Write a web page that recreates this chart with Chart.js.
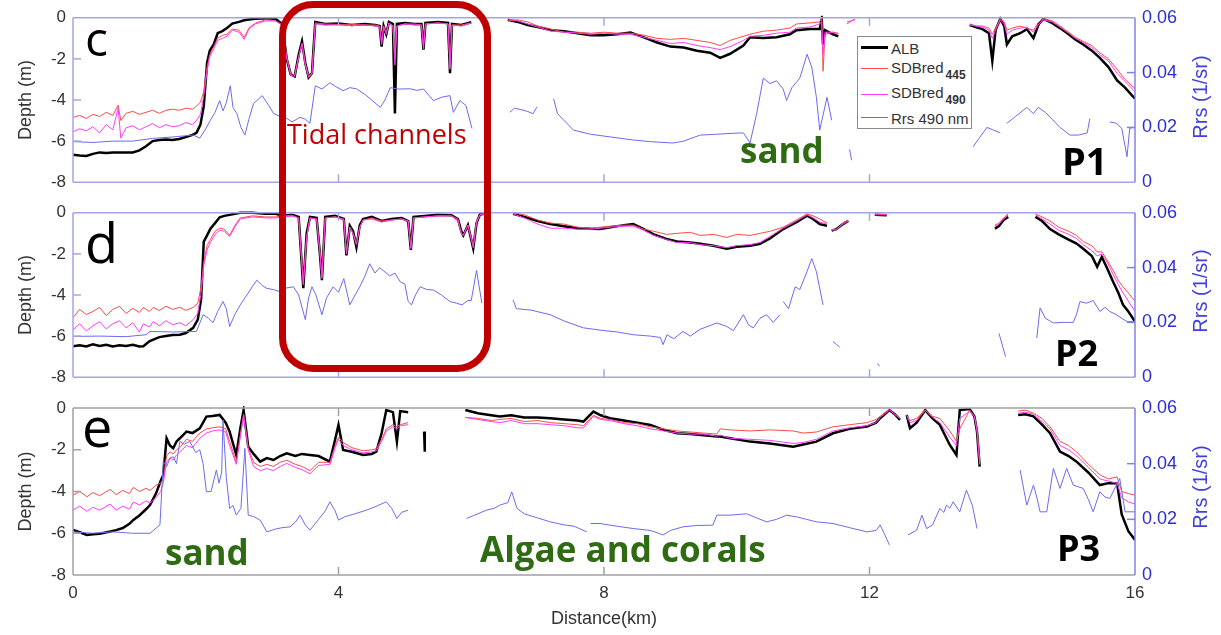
<!DOCTYPE html>
<html><head><meta charset="utf-8">
<script src="https://cdn.jsdelivr.net/npm/chart.js@4/dist/chart.umd.min.js"></script>
<style>
html,body{margin:0;padding:0;background:#fff;}
#wrap{position:relative;width:1221px;height:635px;overflow:hidden;background:#fff;}
canvas{position:absolute;left:0;}
.t{position:absolute;white-space:nowrap;line-height:1;}
.os{font-family:'Open Sans',sans-serif;}
.ls{font-family:'Liberation Sans',Arial,sans-serif;}
.lg{position:absolute;height:0;}
</style></head><body><div id="wrap">
<canvas id="c1" width="1221" height="200" style="top:0px"></canvas>
<canvas id="c2" width="1221" height="200" style="top:195px"></canvas>
<canvas id="c3" width="1221" height="245" style="top:390px"></canvas>

<div class="t ls" style="left:1200px;top:97px;font-size:20px;color:#4040e0;transform:translate(-50%,-50%) rotate(-90deg);">Rrs (1/sr)</div>
<div class="t ls" style="left:1200px;top:291px;font-size:20px;color:#4040e0;transform:translate(-50%,-50%) rotate(-90deg);">Rrs (1/sr)</div>
<div class="t ls" style="left:1200px;top:487px;font-size:20px;color:#4040e0;transform:translate(-50%,-50%) rotate(-90deg);">Rrs (1/sr)</div>

<div class="t os" style="left:85px;top:14px;font-size:48px;color:#000;">c</div>
<div class="t os" style="left:85px;top:215px;font-size:54px;color:#000;">d</div>
<div class="t os" style="left:82px;top:399px;font-size:54px;color:#000;">e</div>
<div class="t os" style="left:1062px;top:141px;font-size:38px;font-weight:bold;color:#000;">P1</div>
<div class="t os" style="left:1055px;top:335px;font-size:36px;font-weight:bold;color:#000;">P2</div>
<div class="t os" style="left:1057px;top:530px;font-size:36px;font-weight:bold;color:#000;">P3</div>
<div class="t os" style="left:740px;top:132px;font-size:35px;font-weight:bold;color:#2f6b13;">sand</div>
<div class="t os" style="left:165px;top:534px;font-size:35px;font-weight:bold;color:#2f6b13;">sand</div>
<div class="t os" style="left:480px;top:531px;font-size:35px;font-weight:bold;color:#2f6b13;">Algae and corals</div>

<div style="position:absolute;left:279px;top:1px;width:212px;height:371px;box-sizing:border-box;border:7px solid #c00000;border-radius:34px;"></div>
<div class="t os" style="left:287px;top:120px;font-size:27px;color:#c00000;">Tidal channels</div>

<div style="position:absolute;left:857px;top:36px;width:115px;height:93px;box-sizing:border-box;border:1px solid #8a8a8a;background:#fff;"></div>
<div class="lg" style="left:861px;top:46px;width:27px;border-top:3px solid #000;"></div>
<div class="lg" style="left:861px;top:68px;width:27px;border-top:1px solid #ff4a4a;"></div>
<div class="lg" style="left:861px;top:94px;width:27px;border-top:1px solid #ff3cff;"></div>
<div class="lg" style="left:861px;top:117px;width:27px;border-top:1px solid #6b6bf0;"></div>
<div class="t ls" style="left:891px;top:41px;font-size:15px;color:#333;">ALB</div>
<div class="t ls" style="left:891px;top:60px;font-size:15px;color:#333;">SDBred<span style="position:relative;top:6px;font-size:12px;font-weight:bold;margin-left:2px;">445</span></div>
<div class="t ls" style="left:891px;top:85px;font-size:15px;color:#333;">SDBred<span style="position:relative;top:6px;font-size:12px;font-weight:bold;margin-left:2px;">490</span></div>
<div class="t ls" style="left:891px;top:111px;font-size:15px;color:#333;">Rrs 490 nm</div>
</div>
<script>
// ---------- tick values ----------
const xTicks = [0, 4, 8, 12, 16];
const depthTicks = [0, -2, -4, -6, -8];
const rrsTicks = [0, 0.02, 0.04, 0.06];

// ---------- Panel P1 (c) ----------
const p1Km = [0,0.1,0.2,0.3,0.4,0.5,0.6,0.68,0.72,0.8,
 0.9,1.0,1.1,1.2,1.3,1.4,1.5,1.6,1.7,1.8,
 1.86,1.92,1.97,2.02,2.06,2.12,2.18,2.25,2.32,2.4,
 2.5,2.58,2.65,2.75,2.9,3.05,3.15,3.22,3.28,3.34,
 3.4,3.45,3.5,3.55,3.6,3.65,3.8,4.0,4.2,4.4,
 4.55,4.62,4.65,4.68,4.72,4.76,4.82,4.85,4.88,5.0,
 5.15,5.25,5.28,5.31,5.5,5.65,5.68,5.71,5.85,6.0,
 6.3,6.55,6.7,6.85,7.0,7.2,7.4,7.6,7.8,8.0,
 8.2,8.4,8.6,8.8,9.0,9.2,9.4,9.6,9.75,9.9,
 10.1,10.2,10.4,10.6,10.8,10.9,11.1,11.25,11.28,11.3,
 11.33,11.45,11.53,11.6,11.66,11.78,12.5,13.51,13.6,13.7,
 13.8,13.85,13.9,13.97,14.03,14.07,14.15,14.27,14.37,14.47,
 14.55,14.62,14.75,14.87,15.0,15.1,15.22,15.35,15.47,15.6,
 15.73,15.85,16.0];
const p1Alb = [-6.66,-6.70,-6.72,-6.62,-6.55,-6.58,-6.55,-6.55,-6.55,-6.55,
 -6.55,-6.45,-6.25,-6.00,-5.95,-5.92,-5.95,-5.90,-5.80,-5.70,
 -5.60,-5.20,-4.30,-2.20,-1.60,-1.30,-0.75,-0.65,-0.50,-0.28,
 -0.20,-0.12,-0.08,-0.05,-0.02,-0.05,-0.30,-2.00,-2.75,-2.85,
 -1.80,-1.15,-2.20,-2.90,-2.70,-0.20,-0.30,-0.28,-0.35,-0.30,
 -0.35,-0.40,-1.40,-0.40,-0.80,-0.20,-0.30,-4.65,-0.30,-0.25,
 -0.30,-0.30,-1.55,-0.25,-0.20,-0.25,-2.70,-0.30,-0.35,-0.22,
 null,-0.10,-0.20,-0.35,-0.45,-0.60,-0.65,-0.75,-0.85,-0.85,
 -0.80,-0.72,-0.95,-1.20,-1.40,-1.45,-1.60,-1.70,-1.95,-1.75,
 -1.35,-0.95,-0.98,-0.95,-0.80,-0.60,-0.55,-0.55,-0.05,-1.30,
 -0.60,-0.80,-0.90,null,null,null,null,-0.35,-0.45,-0.55,
 -0.75,-2.10,-0.60,-0.05,-0.40,-1.30,-0.90,-0.75,-0.55,-0.99,
 -0.30,-0.05,-0.25,-0.50,-0.80,-1.05,-1.30,-1.60,-1.95,-2.40,
 -3.05,-3.40,-3.94];
const p1Sdb445 = [-4.85,-4.75,-4.90,-4.70,-4.80,-4.60,-4.75,-4.25,-5.00,-4.65,
 -4.55,-4.70,-4.60,-4.50,-4.65,-4.50,-4.45,-4.50,-4.40,-4.45,
 -4.30,-4.10,-3.60,-2.40,-1.80,-1.40,-1.00,-0.85,-0.80,-0.55,
 -0.60,-0.95,-0.50,-0.25,-0.10,-0.15,-0.35,-1.90,-2.70,-2.80,
 -1.90,-1.25,-2.20,-2.85,-2.70,-0.25,-0.30,-0.32,-0.32,-0.35,
 -0.35,-0.40,-1.20,-0.40,-0.70,-0.25,-0.40,-2.00,-0.40,-0.30,
 -0.30,-0.35,-1.40,-0.30,-0.25,-0.30,-2.40,-0.35,-0.35,-0.25,
 null,-0.15,-0.10,-0.20,-0.40,-0.55,-0.70,-0.70,-0.75,-0.70,
 -0.75,-0.75,-0.85,-1.00,-1.05,-1.00,-1.10,-1.20,-1.35,-1.10,
 -0.90,-0.80,-0.65,-0.60,-0.50,-0.30,-0.25,-0.20,0.00,-2.60,
 -0.80,-0.70,-0.75,null,-0.30,-0.05,null,-0.35,-0.40,-0.40,
 -0.50,-0.80,-0.50,-0.05,-0.20,-0.60,-0.50,-0.40,-0.50,-0.60,
 -0.20,-0.05,-0.15,-0.40,-0.70,-0.95,-1.15,-1.35,-1.70,-2.00,
 -2.50,-3.00,-3.45];
const p1Sdb490 = [-5.55,-5.40,-5.50,-5.30,-5.60,-5.20,-5.45,-4.40,-5.85,-5.35,
 -5.25,-5.45,-5.30,-5.15,-5.35,-5.20,-5.30,-5.25,-5.10,-5.20,
 -5.00,-4.70,-3.80,-2.60,-1.90,-1.50,-1.10,-1.00,-0.90,-0.60,
 -0.70,-1.05,-0.55,-0.30,-0.15,-0.15,-0.35,-2.00,-2.80,-2.85,
 -1.90,-1.25,-2.30,-2.90,-2.75,-0.30,-0.35,-0.35,-0.38,-0.35,
 -0.40,-0.45,-1.30,-0.45,-0.80,-0.25,-0.40,-2.30,-0.40,-0.30,
 -0.35,-0.35,-1.50,-0.30,-0.25,-0.30,-2.50,-0.35,-0.40,-0.25,
 null,-0.05,-0.15,-0.30,-0.45,-0.65,-0.70,-0.75,-0.80,-0.75,
 -0.80,-0.80,-0.95,-1.10,-1.25,-1.20,-1.35,-1.45,-1.55,-1.40,
 -1.10,-0.90,-0.85,-0.75,-0.70,-0.50,-0.45,-0.30,-0.20,-1.80,
 -0.70,-0.70,-0.80,null,-0.20,-0.10,null,-0.30,-0.40,-0.45,
 -0.60,-1.00,-0.60,-0.10,-0.30,-0.80,-0.60,-0.50,-0.45,-0.70,
 -0.30,-0.10,-0.20,-0.45,-0.75,-1.00,-1.20,-1.45,-1.80,-2.10,
 -2.70,-3.10,-3.60];
const p1RrsKm = [0,0.3,0.6,0.9,1.2,1.5,1.81,1.91,2.0,2.07,
 2.14,2.21,2.26,2.31,2.37,2.41,2.47,2.53,2.59,2.65,
 2.72,2.85,2.95,3.02,3.12,3.22,3.3,3.42,3.5,3.57,
 3.65,3.75,3.87,3.95,4.07,4.17,4.27,4.4,4.5,4.63,
 4.7,4.78,4.9,5.08,5.18,5.28,5.43,5.55,5.68,5.73,
 5.83,5.92,6.01,6.3,6.58,6.65,6.75,6.85,6.93,6.99,
 7.1,7.24,7.3,7.54,7.8,8.1,8.44,8.7,9.04,9.2,
 9.45,9.7,9.9,10.1,10.2,10.3,10.4,10.5,10.6,10.7,
 10.75,10.83,10.95,11.06,11.13,11.2,11.25,11.36,11.43,11.5,
 11.7,11.73,11.8,13.56,13.65,13.77,13.87,13.97,14.02,14.07,
 14.2,14.37,14.47,14.54,14.65,14.75,14.87,15.02,15.15,15.28,
 15.32,15.4,15.62,15.72,15.8,15.88,15.92,16.0];
const p1Rrs = [0.0148,0.0145,0.0150,0.0150,0.0160,0.0165,0.0172,0.0161,0.0195,0.0226,
 0.0255,0.0298,0.0260,0.0290,0.0352,0.0273,0.0250,0.0200,0.0172,0.0230,
 0.0287,0.0316,0.0280,0.0251,0.0240,0.0233,0.0220,0.0237,0.0230,0.0215,
 0.0352,0.0340,0.0363,0.0350,0.0334,0.0345,0.0341,0.0320,0.0300,0.0273,
 0.0300,0.0345,0.0340,0.0341,0.0335,0.0340,0.0298,0.0310,0.0316,0.0255,
 0.0298,0.0280,0.0197,null,0.0255,0.0270,0.0265,0.0258,0.0250,0.0275,
 null,0.0305,0.0250,0.0190,0.0175,0.0165,0.0154,0.0148,0.0143,0.0150,
 0.0172,0.0175,0.0178,0.0180,0.0143,0.0250,0.0380,0.0360,0.0370,0.0340,
 0.0298,0.0345,0.0380,0.0467,0.0420,0.0310,0.0190,0.0310,0.0226,null,
 0.0120,0.0080,null,0.0129,0.0160,0.0200,0.0190,0.0180,null,0.0215,
 0.0240,0.0273,0.0250,0.0273,0.0255,0.0230,0.0200,0.0172,0.0172,0.0180,
 0.0233,null,0.0220,0.0215,0.0197,0.0093,0.0197,0.0200];

// ---------- Panel P2 (d) ----------
const p2Km = [0,0.1,0.2,0.3,0.4,0.5,0.6,0.7,0.8,0.9,
 1.0,1.06,1.15,1.21,1.3,1.4,1.5,1.61,1.7,1.81,
 1.88,1.93,1.97,2.02,2.07,2.14,2.21,2.28,2.36,2.44,
 2.52,2.7,2.9,3.05,3.17,3.3,3.4,3.47,3.52,3.57,
 3.67,3.72,3.75,3.8,3.95,4.08,4.12,4.17,4.22,4.27,
 4.32,4.37,4.5,4.65,4.8,4.95,5.05,5.09,5.13,5.3,
 5.5,5.7,5.8,5.85,5.88,5.95,6.03,6.08,6.13,6.2,
 6.4,6.63,6.8,7.0,7.19,7.4,7.6,7.8,7.94,8.1,
 8.3,8.44,8.6,8.75,8.94,9.1,9.3,9.45,9.65,9.85,
 10.0,10.2,10.35,10.5,10.7,10.9,11.06,11.15,11.25,11.36,
 11.38,11.43,11.5,11.6,11.68,11.8,12.08,12.26,12.4,13.89,
 13.95,14.02,14.09,14.2,14.5,14.6,14.72,14.85,15.0,15.12,
 15.22,15.35,15.43,15.5,15.58,15.67,15.75,15.82,15.9,16.0];
const p2Alb = [-6.49,-6.45,-6.50,-6.40,-6.48,-6.42,-6.50,-6.45,-6.48,-6.42,
 -6.50,-6.49,-6.25,-6.17,-6.05,-6.00,-5.95,-5.93,-5.85,-5.60,
 -5.20,-4.20,-1.40,-1.10,-0.77,-0.50,-0.22,-0.15,-0.10,-0.05,
 0.00,0.00,-0.05,-0.05,-0.14,-0.10,-0.20,-3.67,-1.00,-0.20,
 -0.25,-2.00,-3.28,-0.20,-0.15,-0.30,-2.07,-0.63,-0.90,-1.67,
 -0.60,-0.30,-0.20,-0.40,-0.30,-0.25,-0.40,-1.80,-0.20,-0.15,
 -0.10,-0.12,-0.30,-0.90,-1.10,-0.60,-1.73,-0.50,-0.08,-0.05,
 null,-0.05,-0.20,-0.40,-0.55,-0.65,-0.75,-0.78,-0.79,-0.70,
 -0.60,-0.55,-0.80,-1.05,-1.27,-1.40,-1.45,-1.51,-1.60,-1.75,
 -1.65,-1.60,-1.51,-1.25,-0.79,-0.45,-0.14,-0.30,-0.55,-0.63,
 null,-0.87,-0.80,-0.55,-0.39,null,-0.10,-0.12,null,-0.77,
 -0.65,-0.35,-0.20,null,-0.20,-0.40,-0.79,-1.05,-1.30,-1.50,
 -1.75,-2.10,-2.63,-2.15,-2.70,-3.36,-3.90,-4.48,-4.80,-5.29];
const p2Sdb445 = [-5.10,-4.70,-4.95,-4.80,-4.60,-5.00,-4.70,-4.55,-4.90,-4.65,
 -4.85,-4.60,-4.80,-4.60,-4.75,-4.55,-4.70,-4.60,-4.75,-4.60,
 -4.40,-3.60,-2.40,-1.60,-1.30,-0.90,-0.75,-0.80,-1.10,-0.60,
 -0.25,-0.15,-0.20,-0.20,-0.15,-0.12,-0.25,-3.40,-1.20,-0.25,
 -0.30,-1.90,-3.10,-0.25,-0.20,-0.30,-1.90,-0.70,-1.00,-1.50,
 -0.70,-0.35,-0.25,-0.40,-0.35,-0.30,-0.40,-1.70,-0.25,-0.20,
 -0.15,-0.15,-0.40,-1.00,-1.10,-0.60,-1.60,-0.40,-0.10,-0.05,
 null,0.00,-0.10,-0.35,-0.50,-0.55,-0.70,-0.75,-0.70,-0.65,
 -0.60,-0.60,-0.80,-0.90,-1.05,-1.00,-0.95,-1.10,-1.05,-1.20,
 -1.05,-1.10,-1.00,-0.90,-0.70,-0.35,-0.05,-0.15,-0.30,-0.50,
 null,-0.80,-0.85,-0.50,-0.35,null,-0.05,-0.10,null,-0.60,
 -0.50,-0.25,-0.05,null,-0.05,-0.20,-0.40,-0.70,-0.90,-1.10,
 -1.40,-1.60,-1.90,-1.90,-2.30,-2.80,-3.30,-3.60,-3.90,-4.30];
const p2Sdb490 = [-5.70,-5.40,-5.75,-5.50,-5.30,-5.65,-5.40,-5.25,-5.60,-5.35,
 -5.80,-5.40,-5.55,-5.30,-5.50,-5.25,-5.45,-5.35,-5.50,-5.20,
 -4.90,-3.90,-2.60,-1.80,-1.45,-1.05,-0.85,-0.90,-1.15,-0.70,
 -0.30,-0.20,-0.25,-0.25,-0.20,-0.15,-0.25,-3.50,-1.20,-0.25,
 -0.30,-1.95,-3.20,-0.25,-0.20,-0.35,-2.00,-0.70,-1.00,-1.55,
 -0.70,-0.35,-0.30,-0.45,-0.35,-0.30,-0.40,-1.75,-0.25,-0.20,
 -0.15,-0.15,-0.30,-1.00,-1.10,-0.60,-1.70,-0.50,-0.10,-0.05,
 null,-0.05,-0.25,-0.55,-0.75,-0.75,-0.80,-0.80,-0.75,-0.70,
 -0.65,-0.65,-0.85,-1.10,-1.30,-1.45,-1.45,-1.55,-1.60,-1.70,
 -1.60,-1.55,-1.45,-1.15,-0.75,-0.40,-0.10,-0.25,-0.45,-0.55,
 null,-0.85,-0.80,-0.55,-0.40,null,-0.10,-0.10,null,-0.65,
 -0.55,-0.30,-0.10,null,-0.10,-0.30,-0.55,-0.85,-1.05,-1.25,
 -1.55,-1.85,-2.10,-2.00,-2.40,-3.00,-3.50,-3.90,-4.30,-4.80];
const p2RrsKm = [0,0.4,0.8,1.1,1.16,1.5,1.86,1.96,2.04,2.11,
 2.18,2.26,2.31,2.36,2.44,2.52,2.62,2.7,2.77,2.85,
 2.92,3.02,3.12,3.2,3.32,3.4,3.5,3.55,3.6,3.66,
 3.75,3.82,3.92,4.0,4.08,4.17,4.25,4.32,4.4,4.47,
 4.55,4.62,4.67,4.77,4.85,4.93,5.0,5.05,5.1,5.16,
 5.23,5.33,5.43,5.55,5.68,5.78,5.86,5.95,6.0,6.08,
 6.16,6.3,6.63,6.68,6.9,7.19,7.4,7.69,8.0,8.2,
 8.44,8.7,8.85,8.89,8.95,9.05,9.19,9.3,9.45,9.7,
 9.85,9.95,10.1,10.18,10.25,10.35,10.45,10.55,10.65,10.68,
 10.7,10.78,10.88,10.95,11.05,11.13,11.2,11.3,11.35,11.45,
 11.5,11.55,11.6,12.12,12.15,12.2,13.95,13.97,14.05,14.1,
 14.52,14.57,14.65,14.77,14.9,15.07,15.12,15.17,15.27,15.37,
 15.47,15.55,15.62,15.72,15.8,15.88,16.0];
const p2Rrs = [0.0149,0.0150,0.0148,0.0155,0.0167,0.0165,0.0167,0.0228,0.0215,0.0199,
 0.0240,0.0276,0.0250,0.0185,0.0230,0.0264,0.0300,0.0330,0.0354,0.0335,
 0.0324,0.0320,0.0312,0.0325,0.0330,0.0300,0.0210,0.0290,0.0330,0.0300,
 0.0228,0.0290,0.0330,0.0310,0.0360,0.0264,0.0300,0.0330,0.0370,0.0414,
 0.0380,0.0400,0.0390,0.0370,0.0380,0.0348,0.0340,0.0276,0.0264,0.0300,
 0.0330,0.0320,0.0318,0.0300,0.0276,0.0270,0.0264,0.0280,0.0280,0.0390,
 0.0270,null,0.0282,0.0250,0.0245,0.0228,0.0205,0.0180,0.0170,0.0165,
 0.0155,0.0150,0.0145,0.0119,0.0155,0.0140,0.0167,0.0150,0.0175,0.0198,
 0.0185,0.0170,0.0228,0.0190,0.0180,0.0215,0.0228,0.0200,0.0228,null,
 0.0276,0.0250,0.0330,0.0320,0.0380,0.0433,0.0385,0.0264,null,0.0130,
 0.0120,0.0110,null,0.0050,0.0040,null,0.0160,0.0144,0.0075,null,
 0.0143,0.0253,0.0215,0.0198,0.0200,0.0200,0.0230,0.0276,0.0270,0.0280,
 0.0240,0.0255,0.0240,0.0228,0.0215,0.0203,0.0203];

// ---------- Panel P3 (e) ----------
const p3Km = [0,0.1,0.21,0.3,0.4,0.56,0.65,0.75,0.85,0.91,
 1.0,1.1,1.16,1.25,1.32,1.36,1.41,1.46,1.51,1.56,
 1.61,1.71,1.8,1.91,2.01,2.1,2.21,2.3,2.36,2.46,
 2.52,2.57,2.64,2.72,2.82,2.92,3.02,3.12,3.22,3.35,
 3.45,3.57,3.7,3.87,3.95,4.0,4.07,4.2,4.37,4.5,
 4.57,4.65,4.72,4.82,4.88,4.93,5.05,5.1,5.29,5.3,
 5.35,5.91,6.1,6.3,6.43,6.6,6.8,7.0,7.19,7.4,
 7.6,7.69,7.84,7.95,8.09,8.3,8.5,8.7,8.9,9.1,
 9.3,9.5,9.7,9.75,9.9,10.2,10.5,10.85,11.0,11.2,
 11.45,11.7,11.96,12.1,12.16,12.3,12.38,12.46,12.5,12.56,
 12.61,12.71,12.84,12.95,13.06,13.21,13.31,13.36,13.51,13.58,
 13.62,13.66,13.7,14.24,14.35,14.47,14.6,14.72,14.87,15.0,
 15.12,15.3,15.47,15.6,15.73,15.8,15.9,16.0];
const p3Alb = [-5.84,-5.95,-6.08,-6.05,-6.02,-5.92,-5.85,-5.75,-5.55,-5.36,
 -5.15,-4.85,-4.65,-4.10,-3.50,-3.21,-1.45,-1.80,-1.93,-1.60,
 -1.45,-1.13,-1.20,-0.97,-0.41,-0.38,-0.33,-0.70,-1.13,-2.25,
 -1.00,-0.10,-1.85,-2.20,-2.57,-2.40,-2.49,-2.30,-2.17,-2.30,
 -2.20,-2.25,-2.30,-2.57,-1.50,-0.81,-2.01,-2.10,-2.25,-2.20,
 -2.09,-1.20,-0.10,-0.20,-1.61,-0.15,-0.20,null,-1.13,-2.09,
 null,-0.10,-0.25,-0.35,-0.41,-0.35,-0.45,-0.45,-0.49,-0.55,
 -0.60,-0.65,-0.17,-0.35,-0.49,-0.60,-0.70,-0.81,-1.05,-1.21,
 -1.25,-1.30,-1.37,-1.37,-1.45,-1.61,-1.70,-1.85,-1.75,-1.61,
 -1.21,-1.00,-0.89,-0.70,-0.49,-0.10,-0.30,-0.57,null,-0.33,
 -0.97,-0.70,-0.10,-0.50,-0.81,-1.77,-2.25,-0.10,-0.05,-0.40,
 -1.13,-2.81,null,-0.33,-0.30,-0.40,-0.80,-1.21,-2.09,-2.30,
 -2.57,-3.10,-3.69,-3.60,-3.61,-5.10,-5.90,-6.32];
const p3Sdb445 = [-4.17,-4.00,-4.25,-4.05,-4.20,-3.90,-4.15,-3.95,-4.10,-3.80,
 -4.00,-3.85,-3.95,-3.70,-3.60,-3.40,-2.30,-2.10,-2.20,-2.00,
 -1.90,-1.50,-1.60,-1.20,-1.00,-0.95,-0.90,-1.00,-1.60,-2.60,
 -1.30,-0.30,-1.90,-2.60,-2.80,-2.70,-2.80,-2.60,-2.50,-2.70,
 -2.80,-3.00,-2.60,-2.60,-1.80,-1.40,-1.65,-1.90,-2.05,-2.00,
 -1.95,-1.50,-1.00,-0.80,-0.90,-0.80,-0.70,null,null,null,
 null,-0.45,-0.50,-0.60,-0.55,-0.50,-0.65,-0.60,-0.70,-0.75,
 -0.80,-0.85,-0.35,-0.50,-0.55,-0.70,-0.75,-0.90,-1.00,-1.10,
 -1.15,-1.20,-1.25,-1.00,-1.05,-1.10,-1.05,-1.10,-1.20,-1.15,
 -0.90,-0.80,-0.70,-0.55,-0.40,-0.05,-0.30,-0.50,null,-0.35,
 -0.60,-0.50,-0.10,-0.40,-0.50,-1.10,-1.60,-1.00,-0.10,-0.40,
 -1.00,-2.60,null,-0.15,-0.10,-0.25,-0.50,-0.90,-1.60,-1.80,
 -2.10,-2.70,-3.20,-3.40,-3.30,-4.00,-4.10,-4.17];
const p3Sdb490 = [-4.89,-4.70,-4.95,-4.75,-4.90,-4.60,-4.90,-4.70,-4.85,-4.50,
 -4.65,-4.45,-4.55,-4.30,-4.00,-3.60,-2.60,-2.40,-2.50,-2.25,
 -2.10,-1.80,-1.90,-1.45,-1.20,-1.10,-1.05,-1.15,-1.80,-2.70,
 -1.40,-0.35,-2.00,-2.80,-3.00,-2.90,-3.00,-2.80,-2.65,-2.85,
 -2.95,-3.15,-2.75,-2.70,-1.90,-1.50,-1.80,-2.00,-2.15,-2.10,
 -2.05,-1.60,-1.10,-0.90,-1.00,-0.85,-0.80,null,null,null,
 null,-0.45,-0.55,-0.65,-0.70,-0.60,-0.75,-0.75,-0.80,-0.85,
 -0.95,-0.95,-0.40,-0.55,-0.60,-0.75,-0.85,-1.00,-1.10,-1.20,
 -1.25,-1.25,-1.35,-1.30,-1.45,-1.50,-1.55,-1.70,-1.65,-1.50,
 -1.10,-0.95,-0.85,-0.70,-0.45,-0.10,-0.30,-0.50,null,-0.35,
 -0.70,-0.60,-0.10,-0.45,-0.70,-1.40,-1.80,-0.50,-0.15,-0.40,
 -1.10,-2.70,null,-0.25,-0.20,-0.30,-0.65,-1.00,-1.80,-2.00,
 -2.30,-2.85,-3.40,-3.50,-3.60,-4.30,-4.50,-4.60];
const p3RrsKm = [0,0.3,0.6,0.9,1.16,1.31,1.36,1.41,1.46,1.51,
 1.56,1.61,1.68,1.76,1.85,1.91,1.96,2.01,2.08,2.16,
 2.2,2.24,2.26,2.31,2.36,2.41,2.46,2.53,2.59,2.64,
 2.72,2.82,2.92,3.05,3.15,3.27,3.35,3.42,3.5,3.57,
 3.7,3.8,3.87,3.95,4.0,4.1,4.25,4.42,4.55,4.72,
 4.8,4.88,4.95,5.05,5.1,5.93,6.05,6.15,6.23,6.35,
 6.43,6.55,6.61,6.69,6.8,7.0,7.19,7.4,7.55,7.74,
 7.77,7.8,7.94,8.2,8.44,8.7,8.89,9.0,9.19,9.4,
 9.64,9.7,9.9,10.15,10.3,10.45,10.6,10.75,10.9,11.05,
 11.2,11.45,11.7,11.96,12.1,12.16,12.22,12.3,12.35,12.58,
 12.71,12.79,12.86,12.95,13.06,13.12,13.16,13.21,13.26,13.36,
 13.46,13.55,13.62,13.7,14.27,14.33,14.37,14.47,14.52,14.57,
 14.67,14.77,14.87,14.97,15.07,15.22,15.3,15.37,15.47,15.55,
 15.62,15.77,15.85,16.0];
const p3Rrs = [0.0155,0.0150,0.0155,0.0150,0.0150,0.0180,0.0407,0.0389,0.0420,0.0425,
 0.0400,0.0480,0.0470,0.0480,0.0440,0.0450,0.0400,0.0299,0.0300,0.0377,
 0.0330,0.0370,0.0556,0.0350,0.0239,0.0250,0.0215,0.0240,0.0455,0.0215,
 0.0210,0.0197,0.0155,0.0165,0.0170,0.0173,0.0190,0.0215,0.0180,0.0161,
 0.0200,0.0230,0.0263,0.0230,0.0197,0.0210,0.0220,0.0233,0.0245,0.0263,
 0.0240,0.0203,0.0225,0.0233,null,0.0203,0.0215,0.0225,0.0233,0.0240,
 0.0251,0.0260,0.0299,0.0239,0.0220,0.0205,0.0191,0.0180,0.0175,0.0155,
 null,0.0185,0.0185,0.0175,0.0167,0.0160,0.0144,0.0160,0.0173,0.0178,
 0.0179,0.0215,0.0215,0.0220,0.0205,0.0191,0.0200,0.0215,0.0209,0.0200,
 0.0191,0.0185,0.0170,0.0155,0.0160,0.0180,0.0150,0.0108,null,0.0144,
 0.0161,0.0215,0.0167,0.0180,0.0239,0.0225,0.0251,0.0240,0.0263,0.0227,
 0.0305,0.0250,0.0167,null,0.0377,0.0300,0.0251,0.0323,0.0280,0.0227,
 0.0227,0.0383,0.0311,0.0383,0.0323,0.0311,0.0270,0.0227,0.0299,0.0280,
 0.0275,0.0347,0.0227,0.0227];

// ---------- drawing ----------
Chart.defaults.font.family = "'Liberation Sans', Arial, sans-serif";

const pts = (xs, ys) => xs.map((x, i) => ({ x: x, y: ys[i] }));

const framePlugin = {
  id: 'frame',
  afterDatasetsDraw(chart, args, o) {
    const { ctx, chartArea: a, scales } = chart;
    const seg = (x1, y1, x2, y2, c) => { ctx.strokeStyle = c; ctx.beginPath(); ctx.moveTo(x1, y1); ctx.lineTo(x2, y2); ctx.stroke(); };
    ctx.save();
    ctx.lineWidth = 1.5;
    seg(a.left, a.top, a.right, a.top, o.frame);
    seg(a.left, a.bottom, a.right, a.bottom, o.frame);
    seg(a.left, a.top, a.left, a.bottom, o.left);
    xTicks.slice(1, -1).forEach(v => {
      const p = scales.x.getPixelForValue(v);
      seg(p, a.top, p, a.top + 8, o.frame);
      seg(p, a.bottom, p, a.bottom - 8, o.frame);
    });
    depthTicks.slice(1, -1).forEach(v => {
      const p = scales.y.getPixelForValue(v);
      seg(a.left, p, a.left + 8, p, o.left);
    });
    rrsTicks.slice(1, -1).forEach(v => {
      const p = scales.y2.getPixelForValue(v);
      seg(a.right, p, a.right - 8, p, o.right);
    });
    seg(a.right, a.top, a.right, a.bottom, o.right);
    ctx.restore();
  }
};

function makePanel(id, km, alb, s445, s490, rrsKm, rrs, cfg) {
  const clip = { left: 0, right: 0, top: 2, bottom: 0 };
  return new Chart(document.getElementById(id), {
    type: 'line',
    data: {
      datasets: [
        { label: 'ALB', data: pts(km, alb), borderColor: '#000000', borderWidth: 2.5, order: 4, yAxisID: 'y', clip },
        { label: 'SDBred445', data: pts(km, s445), borderColor: '#ff4a4a', borderWidth: 1, order: 3, yAxisID: 'y', clip },
        { label: 'SDBred490', data: pts(km, s490), borderColor: '#ff3cff', borderWidth: 1, order: 2, yAxisID: 'y', clip },
        { label: 'Rrs 490 nm', data: pts(rrsKm, rrs), borderColor: '#6b6bf0', borderWidth: 1, order: 1, yAxisID: 'y2', clip }
      ]
    },
    options: {
      responsive: false,
      animation: false,
      devicePixelRatio: 1,
      spanGaps: false,
      elements: { point: { radius: 0 }, line: { tension: 0 } },
      layout: { padding: { top: cfg.padTop, bottom: cfg.padBottom, left: 0, right: 0 } },
      plugins: {
        legend: { display: false },
        tooltip: { enabled: false },
        frame: { frame: cfg.frame, left: cfg.frame, right: '#8080f0' }
      },
      scales: {
        x: {
          type: 'linear', min: 0, max: 16, display: cfg.showX, position: 'bottom',
          afterBuildTicks: s => { s.ticks = xTicks.map(v => ({ value: v })); },
          ticks: { padding: 8, color: '#333', font: { size: 17 }, callback: v => String(v) },
          grid: { display: false, drawTicks: false },
          border: { display: false },
          title: { display: cfg.showX, text: 'Distance(km)', color: '#333', font: { size: 18 }, padding: { top: 0, bottom: 5 } },
          afterFit: s => { s.height = cfg.showX ? 60 : 0; }
        },
        y: {
          type: 'linear', position: 'left', min: -8, max: 0,
          afterBuildTicks: s => { s.ticks = depthTicks.map(v => ({ value: v })); },
          ticks: { padding: 7, color: '#333', font: { size: 17 }, callback: v => String(v) },
          grid: { display: false, drawTicks: false },
          border: { display: false },
          title: { display: true, text: 'Depth (m)', color: '#333', font: { size: 18 }, padding: { top: 15, bottom: 0 } },
          afterFit: s => { s.width = 73; }
        },
        y2: {
          type: 'linear', position: 'right', min: 0, max: 0.06,
          afterBuildTicks: s => { s.ticks = rrsTicks.map(v => ({ value: v })); },
          ticks: { padding: 7, color: '#2c2cd6', font: { size: 18 }, callback: v => (v === 0 ? '0' : v.toFixed(2)) },
          grid: { display: false, drawTicks: false },
          border: { display: false },
          afterFit: s => { s.width = 86; }
        }
      }
    },
    plugins: [framePlugin]
  });
}

makePanel('c1', p1Km, p1Alb, p1Sdb445, p1Sdb490, p1RrsKm, p1Rrs,
  { padTop: 16, padBottom: 17, showX: false, frame: '#a4a4e6' });
makePanel('c2', p2Km, p2Alb, p2Sdb445, p2Sdb490, p2RrsKm, p2Rrs,
  { padTop: 17, padBottom: 17, showX: false, frame: '#a4a4e6' });
makePanel('c3', p3Km, p3Alb, p3Sdb445, p3Sdb490, p3RrsKm, p3Rrs,
  { padTop: 18, padBottom: 0, showX: true, frame: '#a0a0a0' });
</script>
</body></html>
